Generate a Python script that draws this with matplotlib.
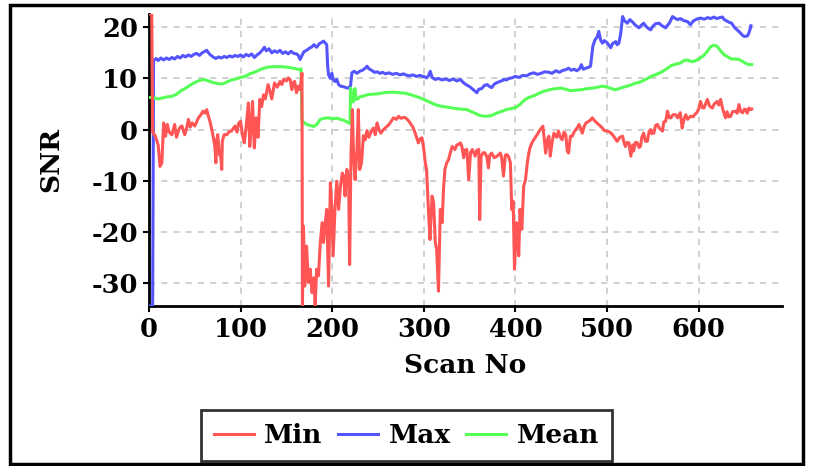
import matplotlib
matplotlib.use("Agg")
import matplotlib.pyplot as plt
from matplotlib.patches import Rectangle

# ---- data ----
min_scan = [0, 3, 4, 7, 10, 12, 14, 16, 18, 20, 22, 25, 28, 30, 32, 34, 36, 39, 41, 43, 45, 47, 50, 52, 54, 57, 59, 61, 63, 65, 67, 69, 70, 72, 73, 74, 75, 77, 78, 79.4, 80, 82, 85, 88, 90, 92, 94, 96, 98, 100, 102, 104, 106, 108.5, 110, 112, 113, 115, 117, 119, 121, 123, 125, 127, 130, 132, 134, 137, 140, 143, 145, 147, 150, 152, 154, 156, 158, 159, 161, 163, 165, 167, 167.5, 168.6, 170, 172, 174, 176, 178, 180, 181.4, 183, 185, 187, 189, 190.5, 192, 194, 196, 198, 199.6, 201, 203, 205, 207, 209, 211, 212.6, 214, 216, 218, 219, 220.5, 222, 223.5, 225, 227, 228.5, 230, 232, 234, 236, 238, 240, 242, 245, 247, 249, 251, 253, 256, 259, 262, 265, 267, 270, 272.5, 275, 278, 280, 283, 285, 288, 290.6, 292, 294, 296, 298, 300, 301.6, 303, 305, 306.7, 309, 310.7, 312.5, 314, 316, 318, 320, 321.5, 323, 325, 327, 329, 331, 334, 336, 338, 340, 341.6, 343.5, 345, 347, 349, 351, 353, 356, 358, 360, 361, 362.5, 365, 367, 369, 370.5, 372, 374, 377, 380, 383.5, 385, 387, 389, 391, 393, 394.5, 396, 397.5, 399, 401, 402, 403.6, 405, 407, 409, 411, 413, 414.6, 416, 418, 420, 423.7, 427, 430, 431, 433, 435, 436.5, 438, 440, 442, 445, 447, 449, 451, 453, 455, 456.6, 458, 460, 462, 464, 466, 468, 469.5, 471, 473, 475, 477, 480, 482, 484, 486, 489, 492, 495, 497, 500, 503, 506, 508, 511, 514, 517, 518.5, 520, 522, 524, 526, 528, 529, 531, 533, 535, 536.5, 538, 540, 542, 544, 546, 547.7, 549, 551, 553, 555, 557, 560.5, 562, 564, 566, 568, 569.7, 572, 575, 577, 580, 582, 584, 586, 588, 591, 594, 596, 598, 600, 602, 604, 605.8, 607.5, 609.5, 612, 615, 617, 620, 622, 624, 626, 628, 629.5, 631, 633, 635, 637, 640.6, 642, 644, 646, 648, 650, 651.6, 653, 655, 657, 658]
min_snr = [22.6, 22.6, -0.5, -1.3, -3.0, -7.2, -6.5, 1.3, -1.3, 1.0, -0.5, -1.0, 1.0, -1.5, -0.3, 0.5, 0.7, -1.0, 0.2, 2.0, 0.5, 1.3, 0.7, 1.5, 2.3, 3.0, 3.6, 3.2, 3.9, 2.5, 1.3, -0.5, -1.3, -3.5, -6.5, -2.0, -1.0, -5.0, -4.5, -7.8, -2.3, -1.0, -1.0, -0.3, -0.3, 0.2, 0.7, -0.5, 1.3, 1.6, -1.0, -2.6, 0.5, 5.2, -3.3, 2.0, 5.5, -3.6, 2.3, -1.5, 5.9, 4.5, 6.8, 6.0, 8.8, 7.5, 6.0, 9.1, 8.3, 9.4, 8.8, 9.8, 9.5, 10.1, 9.8, 7.8, 9.3, 9.4, 7.2, 8.5, 7.8, 11.0, -34.5, -18.9, -30.6, -22.8, -29.9, -27.3, -31.9, -29.0, -34.4, -27.3, -28.6, -22.1, -18.2, -22.1, -18.9, -15.6, -30.6, -10.4, -15.6, -24.7, -15.6, -10.1, -15.6, -11.1, -8.5, -9.1, -13.0, -7.8, -10.4, -26.4, -5.0, 3.9, -5.9, -9.8, -4.0, 3.9, -7.8, -6.5, -1.2, -2.0, -0.2, -1.5, -0.6, 0.3, -1.0, 1.3, 0.0, -0.7, 0.0, 0.5, 1.0, 1.8, 2.3, 2.0, 2.6, 2.2, 2.4, 2.3, 1.8, 1.3, 0.5, -0.7, -1.5, -2.6, -1.8, -1.6, -3.9, -6.5, -7.8, -15.6, -21.5, -13.0, -14.3, -22.0, -23.4, -31.6, -15.6, -18.2, -11.7, -7.8, -6.5, -5.9, -4.5, -3.3, -3.9, -3.0, -2.9, -2.6, -3.3, -5.5, -4.0, -3.9, -9.8, -4.5, -3.9, -5.2, -4.0, -3.9, -17.6, -5.2, -4.5, -4.6, -5.5, -7.5, -5.0, -4.6, -5.5, -5.2, -4.6, -5.5, -9.1, -5.0, -4.9, -5.5, -6.5, -15.6, -14.0, -27.3, -18.2, -21.0, -24.7, -15.6, -19.5, -11.1, -9.8, -6.5, -4.6, -3.5, -2.6, -2.0, -1.0, 0.0, 0.65, -1.0, -4.6, -2.0, -1.3, -5.2, -2.5, -0.7, -1.5, -0.3, -1.5, -2.0, -0.5, -1.0, -4.2, -4.6, -1.3, -1.3, -0.5, 0.0, 0.5, 1.0, 0.3, -0.7, 0.6, 1.3, 1.6, 1.9, 2.3, 1.8, 1.3, 0.8, 0.3, -0.2, -0.3, -0.5, -1.0, -1.5, -2.3, -1.5, -1.3, -2.5, -3.3, -2.5, -2.6, -5.2, -3.0, -4.2, -2.5, -2.6, -3.5, -3.3, -1.5, -0.7, -2.3, -2.3, -0.3, 0.0, -0.8, -0.7, 0.8, 1.0, 0.3, -0.3, 1.5, 1.6, 3.6, 2.3, 2.3, 2.9, 2.9, 2.3, 3.3, 0.3, 2.0, 2.9, 2.0, 2.6, 2.5, 3.0, 3.3, 4.0, 5.5, 4.3, 4.2, 5.0, 5.9, 4.6, 4.2, 5.0, 5.5, 4.8, 5.9, 4.2, 3.0, 2.3, 3.5, 2.5, 2.6, 3.5, 3.6, 3.2, 4.9, 3.5, 3.3, 4.0, 3.9, 3.2, 4.2, 3.9, 4.0]

max_scan = [0, 4, 5, 8, 10, 13, 16, 19, 22, 25, 28, 31, 34, 37, 40, 43, 46, 49, 52, 55, 58, 61, 63, 65, 67, 70, 73, 76, 79, 82, 85, 88, 91, 94, 97, 100, 103, 106, 109, 112, 115, 118, 121, 124, 126, 128, 131, 134, 137, 140, 143, 146, 149, 152, 155, 158, 161, 163, 165, 167, 169, 172, 175, 178, 180, 183, 186, 188, 190.5, 192, 194, 195, 196, 198, 199.6, 201, 203, 205, 207, 209, 212, 215, 218, 220, 221.5, 224, 227, 230, 233, 236, 238, 240, 243, 246, 249, 252, 255, 258, 262, 266, 270, 274, 278, 280, 284, 288, 292, 296, 298, 300, 303, 305, 307, 309, 312.5, 316, 320, 324, 328, 332, 336, 340, 343, 346, 350, 354, 356, 358, 360, 363, 366, 369, 372, 374, 377, 380, 383, 386, 387, 390, 393, 396, 400, 404, 408, 412, 416, 420, 424, 428, 432, 436.5, 440, 444, 448, 452, 455, 458, 461, 464, 467, 470, 472, 474, 477, 480, 482, 484.5, 487, 489, 491, 493, 495, 497, 500, 502, 504, 506, 509.5, 511, 513, 515, 517, 519, 522, 525, 528, 531, 535, 538, 540, 543, 545, 547.7, 550, 553, 556.8, 560, 564, 566, 568, 571.5, 574, 577, 580, 584, 588, 591, 594, 598, 602, 606, 610, 613, 616.6, 620, 623, 626, 628, 631, 633, 636, 639, 642, 645, 648, 650, 653, 654, 656, 657]
max_snr = [-34.5, -34.5, 13.5, 13.9, 13.5, 14.0, 13.6, 14.0, 13.7, 14.1, 13.8, 14.3, 14.0, 14.5, 14.2, 14.6, 14.3, 14.7, 14.9, 14.5, 15.0, 15.3, 15.5, 15.0, 14.6, 14.2, 13.9, 14.2, 14.0, 14.3, 14.1, 14.4, 14.2, 14.5, 14.3, 14.6, 14.2, 14.7, 14.4, 14.8, 14.1, 14.6, 15.0, 15.6, 16.1, 15.4, 15.8, 15.0, 15.4, 15.1, 15.5, 14.9, 15.2, 14.8, 15.3, 14.9, 14.8, 14.5, 13.7, 14.5, 15.2, 15.5, 15.9, 16.2, 16.6, 16.1, 16.8, 17.0, 17.3, 17.0, 16.6, 12.5, 10.7, 10.0, 11.0, 9.8, 9.4, 9.8, 8.8, 8.5, 8.4, 8.2, 8.1, 8.6, 11.1, 11.4, 11.0, 11.4, 11.6, 12.0, 12.4, 11.9, 11.6, 11.2, 11.3, 11.0, 11.2, 10.9, 11.1, 10.8, 11.0, 10.7, 10.9, 10.7, 10.5, 10.7, 10.4, 10.6, 10.4, 10.4, 10.1, 10.5, 11.4, 10.2, 9.8, 10.0, 9.7, 9.9, 9.6, 9.9, 9.5, 9.8, 9.2, 8.8, 8.4, 7.8, 7.5, 7.2, 7.9, 8.0, 8.6, 8.8, 8.4, 8.2, 8.9, 9.2, 9.4, 9.6, 9.8, 9.7, 10.0, 10.1, 10.4, 10.2, 10.6, 10.5, 10.9, 11.1, 10.8, 11.0, 11.3, 11.2, 11.0, 11.5, 11.2, 11.6, 11.7, 12.0, 11.6, 11.8, 11.5, 11.9, 12.7, 11.8, 12.0, 12.2, 12.4, 16.3, 17.6, 18.0, 19.2, 17.5, 16.9, 17.4, 17.0, 16.5, 16.0, 16.8, 17.2, 16.6, 16.9, 18.9, 22.1, 21.3, 20.8, 21.5, 21.0, 20.4, 19.9, 20.5, 20.8, 20.1, 19.8, 19.5, 20.2, 20.7, 20.8, 20.3, 19.9, 20.4, 20.8, 22.1, 21.8, 21.5, 21.7, 21.3, 21.1, 20.5, 21.2, 21.6, 21.8, 21.6, 21.9, 21.7, 22.0, 21.7, 21.9, 22.0, 21.5, 21.2, 21.0, 20.8, 20.0, 19.5, 19.0, 18.4, 18.2, 18.3, 18.5, 19.5, 20.3]

mean_scan = [0, 5, 10, 15, 20, 25, 30, 35, 40, 45, 50, 55, 60, 65, 70, 75, 80, 85, 90, 95, 100, 105, 110, 115, 121, 125, 130, 135, 140, 145, 150, 155, 160, 165, 166, 167, 170, 172, 176, 180, 183, 187, 191, 196, 200, 205, 209, 213, 216, 218, 219.5, 220, 221, 223, 224, 225, 226, 228, 230, 233, 238, 243, 250, 256, 262, 268, 274, 280, 286, 291, 296, 300, 306, 312, 318, 325, 332, 340, 347, 352, 358, 362, 368, 373, 378, 384, 390, 395, 400, 405, 410, 415, 420, 427, 433, 440, 449, 455, 460, 466, 472, 478, 484, 490, 495, 500, 505, 509, 513, 518, 524, 530, 536, 542, 548, 554, 560, 566, 570, 575, 580, 584, 588, 592, 596, 600, 605, 609, 613, 617, 620, 624, 628, 632, 636, 640, 644, 648, 652, 655, 658]
mean_snr = [6.3, 6.2, 6.0, 6.2, 6.4, 6.5, 6.9, 7.6, 8.1, 8.7, 9.2, 9.6, 9.8, 9.5, 9.2, 9.0, 8.9, 9.3, 9.7, 9.9, 10.2, 10.4, 10.9, 11.2, 11.7, 12.0, 12.2, 12.3, 12.3, 12.3, 12.2, 12.1, 11.9, 11.7, 11.9, 1.6, 1.3, 1.0, 0.8, 0.6, 1.0, 2.0, 2.2, 2.3, 2.1, 2.2, 2.0, 1.8, 1.5, 1.3, 1.2, 8.1, 5.5, 5.4, 7.9, 8.0, 5.9, 6.0, 6.4, 6.5, 6.8, 6.9, 7.0, 7.2, 7.3, 7.3, 7.2, 7.1, 6.8, 6.5, 6.2, 5.9, 5.4, 4.9, 4.6, 4.4, 4.2, 4.0, 3.9, 3.5, 3.0, 2.7, 2.6, 2.7, 3.1, 3.5, 3.9, 4.1, 4.3, 4.9, 5.8, 6.3, 6.6, 7.2, 7.6, 7.9, 8.1, 7.9, 7.6, 7.7, 7.8, 8.0, 8.1, 8.3, 8.5, 8.3, 8.0, 7.8, 8.0, 8.3, 8.6, 9.0, 9.3, 9.8, 10.4, 10.8, 11.3, 12.0, 12.5, 12.8, 13.0, 13.5, 13.6, 13.3, 13.4, 13.8, 14.4, 15.2, 16.2, 16.5, 16.3, 15.4, 14.6, 14.2, 13.8, 13.8, 13.7, 13.3, 12.9, 12.7, 12.7]

series_names = ["Min", "Max", "Mean"]
series_colors = ["#ff5555", "#5555ff", "#55ff55"]
x_ticks = [0, 100, 200, 300, 400, 500, 600]
y_ticks = [-30, -20, -10, 0, 10, 20]

# ---- figure ----
W, H = 813, 466
plt.rcParams["font.family"] = "DejaVu Serif"
plt.rcParams["font.weight"] = "bold"
fig = plt.figure(figsize=(W / 100, H / 100), dpi=100)

ax = fig.add_axes([149 / W, 1 - 306 / H, (782 - 149) / W, (306 - 14) / H])

lw = 2.2
l_max, = ax.plot(max_scan, max_snr, color=series_colors[1], lw=lw, zorder=3)
l_mean, = ax.plot(mean_scan, mean_snr, color=series_colors[2], lw=lw, zorder=3)
l_min, = ax.plot(min_scan, min_snr, color=series_colors[0], lw=lw, zorder=4)

ax.set_xlim(0, 691)
ax.set_ylim(-34.5, 22.6)
ax.set_xticks(x_ticks)
ax.set_yticks(y_ticks)
ax.set_xticklabels([str(v) for v in x_ticks], fontsize=18.5, fontweight="bold")
ax.set_yticklabels([str(v) for v in y_ticks], fontsize=18.5, fontweight="bold")
ax.tick_params(axis="both", direction="out", length=4, width=1.5, color="black", pad=4)

ax.grid(True, color="#c4c4c4", linestyle=(0, (4, 4)), linewidth=1.1, zorder=0)
ax.set_axisbelow(True)

for s in ["top", "right"]:
    ax.spines[s].set_visible(False)
for s in ["left", "bottom"]:
    ax.spines[s].set_linewidth(2)
    ax.spines[s].set_color("black")

ax.set_xlabel("Scan No", fontsize=19, fontweight="bold")
ax.xaxis.set_label_coords(0.5, -0.16)
ax.set_ylabel("SNR", fontsize=19, fontweight="bold")
ax.yaxis.set_label_coords(-0.135, 0.5)

leg = fig.legend([l_min, l_max, l_mean], series_names, loc="center",
                 bbox_to_anchor=(406.5 / W, 1 - 435.7 / H), ncol=3,
                 prop=dict(family="DejaVu Serif", weight="bold", size=19),
                 frameon=True, fancybox=False, edgecolor="black",
                 handlelength=1.5, columnspacing=0.6, handletextpad=0.4,
                 borderpad=0.5, borderaxespad=0)
leg.get_frame().set_linewidth(2)

# outer frame around the figure
fig.patches.append(Rectangle((9.5 / W, 1 - 464 / H), (803 - 9.5) / W, (464 - 4.5) / H,
                             transform=fig.transFigure, fill=False,
                             edgecolor="black", linewidth=2.5))

fig.savefig("out.png", dpi=100)
